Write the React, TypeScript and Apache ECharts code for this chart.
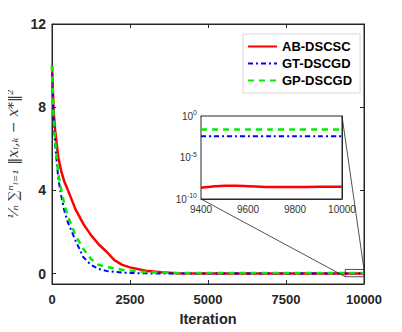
import React, { useEffect, useRef } from "react";
import * as echarts from "echarts";

const iterations = [0, 50, 100, 200, 300, 400, 500, 750, 1000, 1250, 1500, 1750, 2000, 2250, 2500, 3000, 3500, 4000, 5000, 6000, 7000, 8000, 9000, 10000];
const abDscsc = [10, 7.9, 6.9, 5.6, 4.9, 4.4, 4.05, 3.1, 2.4, 1.85, 1.4, 1.05, 0.65, 0.42, 0.3, 0.14, 0.06, 0.02, 0.004, 0.001, 0.0002, 0.00005, 0.00001, 0.000000003];
const gtDscgd = [10, 7.5, 6.2, 4.6, 3.7, 3.0, 2.5, 1.6, 0.8, 0.42, 0.22, 0.13, 0.08, 0.05, 0.03, 0.012, 0.006, 0.004, 0.0036, 0.0036, 0.0036, 0.0036, 0.0036, 0.0036];
const gpDscgd = [10, 7.6, 6.4, 4.8, 4.0, 3.3, 2.8, 1.85, 1.2, 0.7, 0.42, 0.32, 0.25, 0.19, 0.15, 0.08, 0.045, 0.03, 0.023, 0.023, 0.023, 0.023, 0.023, 0.023];

const insetIter = [9400, 9450, 9500, 9550, 9600, 9700, 9800, 9900, 10000];
const insetAb = [2.3e-9, 3.2e-9, 4.0e-9, 3.9e-9, 3.5e-9, 2.8e-9, 2.8e-9, 2.9e-9, 2.9e-9];
const insetGt = [3.6e-3, 3.6e-3, 3.6e-3, 3.6e-3, 3.6e-3, 3.6e-3, 3.6e-3, 3.6e-3, 3.6e-3];
const insetGp = [2.3e-2, 2.3e-2, 2.3e-2, 2.3e-2, 2.3e-2, 2.3e-2, 2.3e-2, 2.3e-2, 2.3e-2];

const seriesNames = ["AB-DSCSC", "GT-DSCGD", "GP-DSCGD"];
const yTicks = [0, 4, 8, 12];
const insetYTicks = [1e-10, 1e-5, 1];
const zoomBox = { x0: 9400, x1: 10000, y0: -0.15, y1: 0.2 };
const yAxisTitle = "¹⁄ₙ ∑ⁿᵢ₌₁ ‖xᵢ,ₖ − x*‖²";

const AX = "#262626";
const FONT = "Liberation Sans, Arial, sans-serif";
const SERIF = "DejaVu Serif, serif";

const styles = [
  { color: "#ff0000", width: 2.5, type: "solid" as any },
  { color: "#0000ff", width: 2, type: [5, 3, 2, 3] as any },
  { color: "#00ee00", width: 2.5, type: [6, 5] as any },
];

function pairs(xs: number[], ys: number[]) {
  return xs.map((x, i) => [x, ys[i]]);
}

export default function App() {
  const ref = useRef<HTMLDivElement>(null);
  useEffect(() => {
    if (!ref.current) return;
    const chart = echarts.init(ref.current, null, { renderer: "svg" });
    const mainData = [abDscsc, gtDscgd, gpDscgd];
    const insetData = [insetAb, insetGt, insetGp];
    const tickStyle = { show: true, inside: true, length: 4, lineStyle: { color: AX } };
    const plain = (v: number) => String(v);
    const option: any = {
      animation: false,
      backgroundColor: "#ffffff",
      grid: [
        { left: 52, right: 38, top: 24, bottom: 48, outerBoundsMode: "none", containLabel: false, show: true, borderColor: AX, borderWidth: 1, backgroundColor: "transparent" },
        { left: 201, top: 116, width: 141, height: 83, outerBoundsMode: "none", containLabel: false, show: true, borderColor: AX, borderWidth: 1, backgroundColor: "#ffffff", z: 5 },
      ],
      legend: {
        data: seriesNames,
        left: 243,
        top: 34,
        orient: "vertical",
        backgroundColor: "#ffffff",
        borderColor: "#d9d9d9",
        borderWidth: 1,
        padding: [6, 8, 6, 4],
        itemWidth: 29,
        itemHeight: 10,
        itemGap: 4,
        itemTextGap: 3,
        itemStyle: { opacity: 0 },
        textStyle: { fontFamily: FONT, fontWeight: "bold", fontSize: 13, color: "#000" },
        z: 20,
      },
      xAxis: [
        {
          type: "value", gridIndex: 0, position: "bottom", min: 0, max: 10000, interval: 2500,
          name: "Iteration", nameLocation: "middle", nameGap: 27,
          nameTextStyle: { fontFamily: FONT, fontWeight: "bold", fontSize: 14.5, color: AX },
          axisLine: { show: true, onZero: false, lineStyle: { color: AX } },
          axisTick: tickStyle,
          axisLabel: { margin: 9, fontFamily: FONT, fontWeight: "bold", fontSize: 13, color: AX, formatter: plain },
          splitLine: { show: false },
        },
        {
          type: "value", gridIndex: 0, position: "top", min: 0, max: 10000, interval: 2500,
          axisLine: { show: true, onZero: false, lineStyle: { color: AX } },
          axisTick: tickStyle, axisLabel: { show: false }, splitLine: { show: false },
        },
        {
          type: "value", gridIndex: 1, position: "bottom", min: 9400, max: 10000, interval: 200,
          axisLine: { show: true, onZero: false, lineStyle: { color: AX } },
          axisTick: { ...tickStyle, length: 3 },
          axisLabel: { margin: 5, fontFamily: FONT, fontSize: 10, color: "#333", formatter: plain },
          splitLine: { show: false },
        },
        {
          type: "value", gridIndex: 1, position: "top", min: 9400, max: 10000, interval: 200,
          axisLine: { show: true, onZero: false, lineStyle: { color: AX } },
          axisTick: { ...tickStyle, length: 3 }, axisLabel: { show: false }, splitLine: { show: false },
        },
      ],
      yAxis: [
        {
          type: "value", gridIndex: 0, position: "left", min: -0.5, max: 12,
          name: yAxisTitle,
          nameLocation: "middle", nameRotate: 90, nameGap: 24,
          nameTextStyle: { fontFamily: SERIF, fontStyle: "italic", fontSize: 14, color: "#404040" },
          axisLine: { show: true, onZero: false, lineStyle: { color: AX } },
          axisTick: { ...tickStyle, customValues: yTicks },
          axisLabel: { margin: 6, fontFamily: FONT, fontWeight: "bold", fontSize: 14, color: AX, customValues: yTicks },
          splitLine: { show: false },
        },
        {
          type: "value", gridIndex: 0, position: "right", min: -0.5, max: 12,
          axisLine: { show: true, onZero: false, lineStyle: { color: AX } },
          axisTick: { ...tickStyle, customValues: yTicks },
          axisLabel: { show: false }, splitLine: { show: false },
        },
        {
          type: "log", logBase: 10, gridIndex: 1, position: "left", min: 1e-10, max: 1,
          axisLine: { show: true, onZero: false, lineStyle: { color: AX } },
          axisTick: { ...tickStyle, length: 3, customValues: insetYTicks },
          axisLabel: {
            margin: 4, fontFamily: FONT, fontSize: 10, color: "#333", customValues: insetYTicks,
            formatter: (v: number) => `10{e|${Math.round(Math.log10(v))}}`,
            rich: { e: { fontFamily: FONT, fontSize: 7, color: "#333", verticalAlign: "top", lineHeight: 14 } },
            lineHeight: 14,
          },
          splitLine: { show: false },
        },
        {
          type: "log", logBase: 10, gridIndex: 1, position: "right", min: 1e-10, max: 1,
          axisLine: { show: true, onZero: false, lineStyle: { color: AX } },
          axisTick: { ...tickStyle, length: 3, customValues: insetYTicks },
          axisLabel: { show: false }, splitLine: { show: false },
        },
      ],
      series: [
        ...seriesNames.map((name, k) => ({
          name, type: "line", xAxisIndex: 0, yAxisIndex: 0,
          data: pairs(iterations, mainData[k]),
          showSymbol: false, symbol: "none", smooth: false,
          lineStyle: styles[k], itemStyle: { color: styles[k].color }, z: 2 + k,
        })),
        ...seriesNames.map((name, k) => ({
          name, type: "line", xAxisIndex: 2, yAxisIndex: 2,
          data: pairs(insetIter, insetData[k]),
          showSymbol: false, symbol: "none", smooth: 0.3,
          lineStyle: styles[k], itemStyle: { color: styles[k].color }, z: 10 + k,
        })),
      ],
    };
    chart.setOption(option);

    const m0 = chart.convertToPixel({ xAxisIndex: 0, yAxisIndex: 0 }, [zoomBox.x0, zoomBox.y1]) as number[];
    const m1 = chart.convertToPixel({ xAxisIndex: 0, yAxisIndex: 0 }, [zoomBox.x1, zoomBox.y0]) as number[];
    const i0 = chart.convertToPixel({ xAxisIndex: 2, yAxisIndex: 2 }, [9400, 1e-10]) as number[];
    const i1 = chart.convertToPixel({ xAxisIndex: 2, yAxisIndex: 2 }, [10000, 1]) as number[];
    const lineStyle = { stroke: "#262626", lineWidth: 0.8 };
    chart.setOption({
      graphic: [
        { type: "rect", shape: { x: m0[0], y: m0[1], width: m1[0] - m0[0], height: m1[1] - m0[1] }, style: { fill: "none", stroke: "#262626", lineWidth: 0.8 }, z: 30 },
        { type: "line", shape: { x1: i0[0], y1: i0[1], x2: m0[0], y2: m1[1] }, style: lineStyle, z: 30 },
        { type: "line", shape: { x1: i1[0], y1: i1[1], x2: m1[0], y2: m0[1] }, style: lineStyle, z: 30 },
      ],
    });
    return () => chart.dispose();
  }, []);
  return <div ref={ref} style={{ width: 402, height: 332, margin: -8 }} />;
}
